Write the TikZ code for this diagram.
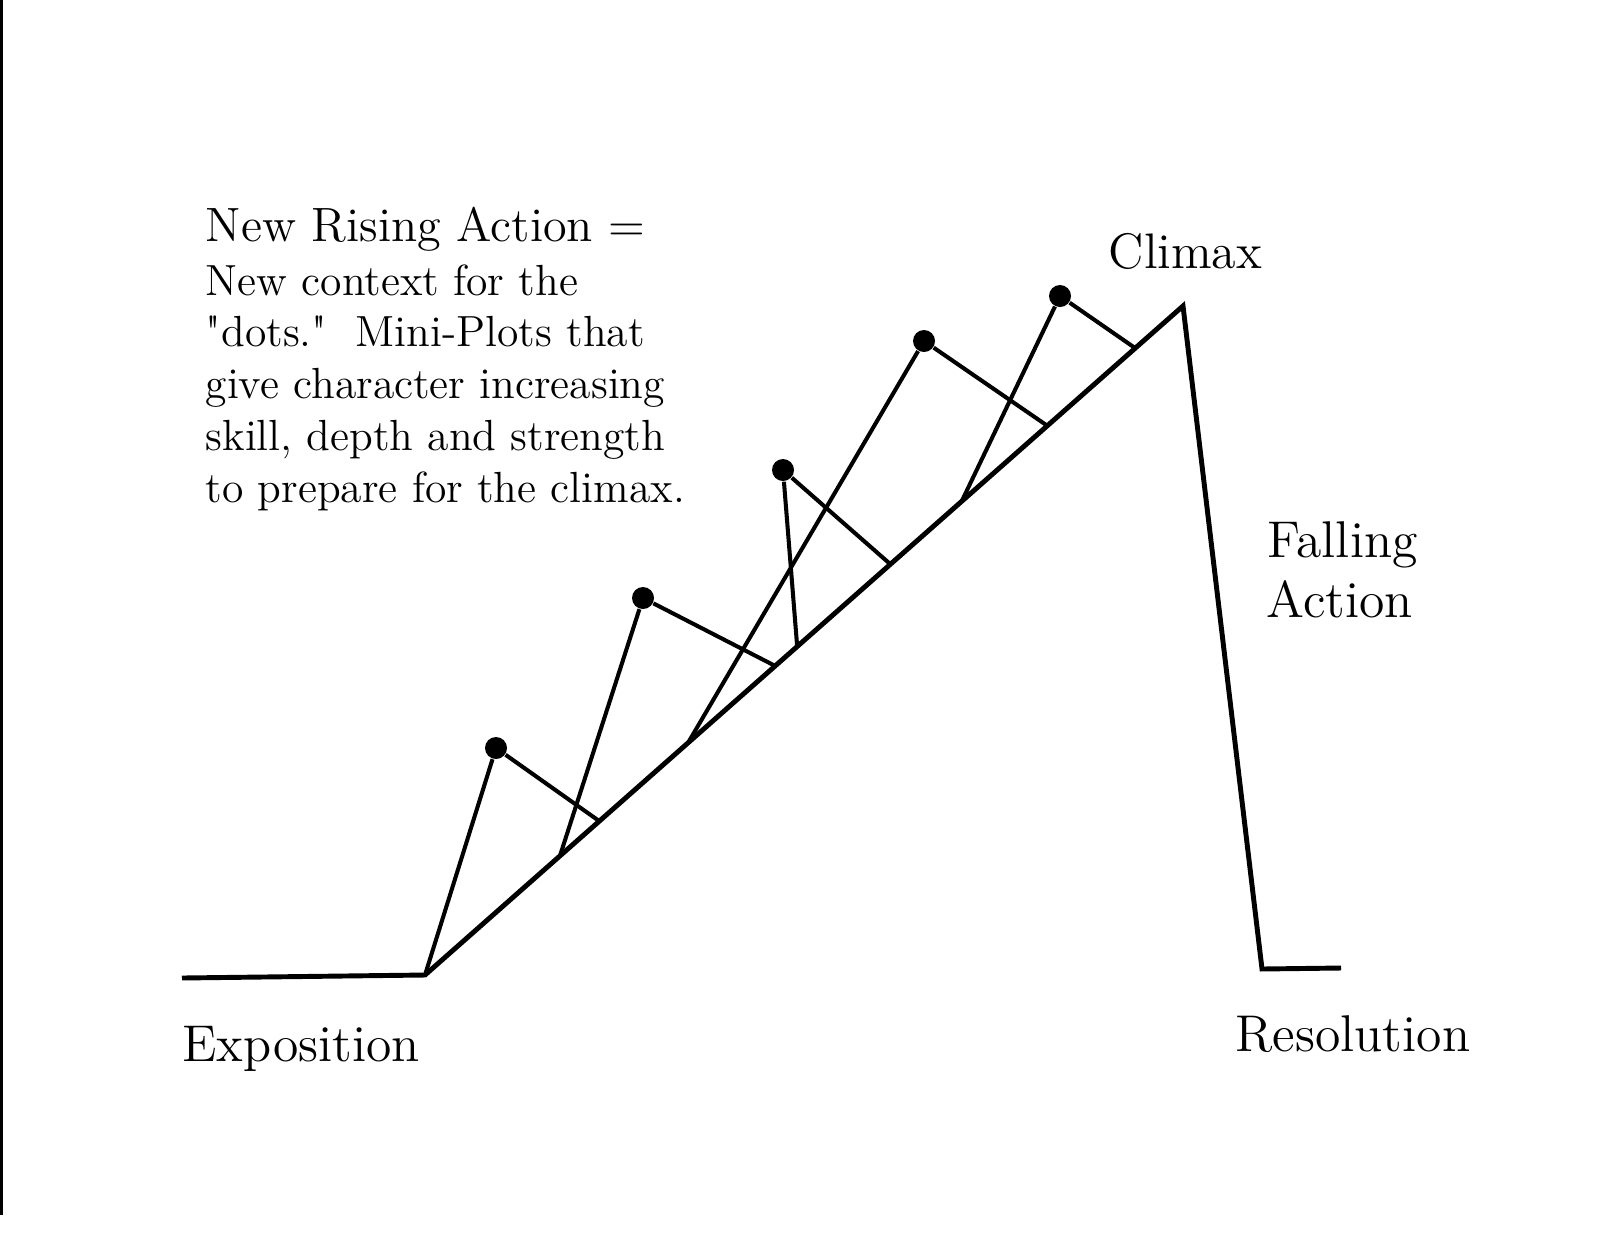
\documentclass[tikz,border=0pt]{standalone}
\usepackage{fontspec}
\usetikzlibrary{calc}

\begin{document}
\begin{tikzpicture}[x=0.01cm, y=-0.01cm]
	\tikzset{
		plotline/.style={line width=1.4pt},
		miniline/.style={line width=1.15pt},
		minidot/.style={circle, fill=black, inner sep=0pt, minimum size=0.22cm},
		partname/.style={anchor=base west, inner sep=0pt, font=\fontsize{14.7}{17}\selectfont},
		notetext/.style={anchor=base west, inner sep=0pt, font=\fontsize{12.4}{15}\selectfont},
	}
	\useasboundingbox (0,0) rectangle (1600,1236);
	\draw[line width=0.85pt] (1.5,0) -- (1.5,1215);

	% main plot line
	\coordinate (start) at (182,978);
	\coordinate (exp) at (425,975);
	\coordinate (climax) at (1183,306);
	\coordinate (fall) at (1262,969);
	\coordinate (end) at (1341,968);
	\draw[plotline] (start) -- (exp) -- (climax) -- (fall) -- (end);

	% mini-plots
	\node[minidot] (d1) at (496,748) {};
	\node[minidot] (d2) at (643,598) {};
	\node[minidot] (d3) at (783,470) {};
	\node[minidot] (d4) at (924,341) {};
	\node[minidot] (d5) at (1060,296) {};

	\coordinate (f1) at ($(exp)!0.178!(climax)$);
	\coordinate (f2) at ($(exp)!0.230!(climax)$);
	\coordinate (f3) at ($(exp)!0.347!(climax)$);
	\coordinate (f4) at ($(exp)!0.462!(climax)$);
	\coordinate (f5) at ($(exp)!0.491!(climax)$);
	\coordinate (f6) at ($(exp)!0.614!(climax)$);
	\coordinate (f7) at ($(exp)!0.708!(climax)$);
	\coordinate (f8) at ($(exp)!0.821!(climax)$);
	\coordinate (f9) at ($(exp)!0.937!(climax)$);

	\draw[miniline] (exp) -- (d1) -- (f2);
	\draw[miniline] (f1) -- (d2) -- (f4);
	\draw[miniline] (f5) -- (d3) -- (f6);
	\draw[miniline] (f3) -- (d4) -- (f8);
	\draw[miniline] (f7) -- (d5) -- (f9);

	% texts
	\node[anchor=base west, inner sep=0pt, font=\fontsize{13.7}{16}\selectfont] (title) at (205,241.7) {New Rising Action =};
	\foreach \txt [count=\n from 0] in {New context for the, {\textquotedbl dots.\textquotedbl~~Mini-Plots that}, give character increasing, {skill, depth and strength}, to prepare for the climax.}
		\node[notetext] (note\n) at (205,{295+51.8*\n}) {\txt};

	\node[partname, font=\fontsize{14.2}{17}\selectfont] (climaxname) at (1108,268) {Climax};
	\node[partname] (falling) at (1267,557) {Falling};
	\node[partname] (action) at (1266,617) {Action};
	\node[partname] (resolution) at (1235,1051.7) {Resolution};
	\node[partname] (exposition) at (181.7,1061.7) {Exposition};
\end{tikzpicture}
\end{document}
